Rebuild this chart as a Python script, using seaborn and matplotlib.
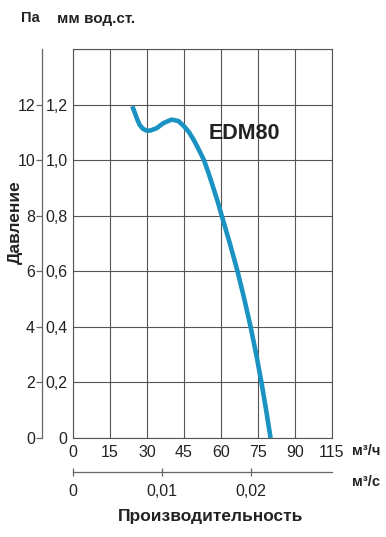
import matplotlib
matplotlib.use("Agg")
import matplotlib.pyplot as plt
import seaborn as sns
import pandas as pd
from matplotlib import font_manager

# ---- data ----
flow_m3h = [24.04, 25.0, 25.9, 27.0, 28.3, 29.6, 31.2, 33.9, 36.6, 40.0, 42.7, 45.0, 47.0, 49.0,
            51.0, 53.1, 55.05, 56.9, 58.65, 60.3, 63.6, 66.7, 69.45, 72.0, 74.3, 76.4, 78.3, 80.1]
pressure_mm = [1.194, 1.172, 1.150, 1.127, 1.113, 1.107, 1.106, 1.115, 1.133, 1.146, 1.141, 1.122, 1.101, 1.072,
               1.038, 1.0, 0.951, 0.9, 0.851, 0.8, 0.7, 0.6, 0.5, 0.4, 0.3, 0.2, 0.1, 0.0]
x_ticks = [0, 15, 30, 45, 60, 75, 90, 105]
x_tick_labels = ['0', '15', '30', '45', '60', '75', '90', '115']
y_ticks = [0, 0.2, 0.4, 0.6, 0.8, 1.0, 1.2]
y_tick_labels = ['0', '0,2', '0,4', '0,6', '0,8', '1,0', '1,2']
pa_ticks = [0, 2, 4, 6, 8, 10, 12]
m3s_ticks = [0, 0.01, 0.02]
m3s_labels = ['0', '0,01', '0,02']

sns.set_theme(style="white")
names = {f.name for f in font_manager.fontManager.ttflist}
narrow = 'Liberation Sans Narrow' if 'Liberation Sans Narrow' in names else 'Liberation Sans'
plt.rcParams['font.family'] = ['Liberation Sans', 'DejaVu Sans']

fig = plt.figure(figsize=(3.86, 5.37), dpi=100)
W, H = 386, 537
left, right, top, bottom = 73, 332, 49, 438
ax = fig.add_axes([left / W, 1 - bottom / H, (right - left) / W, (bottom - top) / H])

df = pd.DataFrame({'q': flow_m3h, 'p': pressure_mm})
sns.lineplot(data=df, x='q', y='p', sort=False, ax=ax, color='#1a92c2', linewidth=3.3, zorder=3,
             solid_joinstyle='round', solid_capstyle='butt')

ax.set_xlim(0, 105)
ax.set_ylim(0, 1.4)
ax.set_xticks(x_ticks)
ax.set_xticklabels(x_tick_labels, fontfamily=narrow, fontsize=11.5, color='#222222')
ax.set_yticks(y_ticks + [1.4])
ax.set_yticklabels(y_tick_labels + [''], fontfamily=narrow, fontsize=11.5, color='#222222')
ax.tick_params(axis='both', length=0)
ax.tick_params(axis='x', pad=5)
ax.tick_params(axis='y', pad=4)
ax.grid(True, color='#555555', linewidth=0.8)
for s in ax.spines.values():
    s.set_color('#555555')
    s.set_linewidth(0.8)
ax.set_xlabel('')
ax.set_ylabel('')

# Pa axis
ax2 = ax.twinx()
ax2.set_ylim(0, 14)
ax2.spines['left'].set_position(('axes', -31 / (right - left)))
ax2.spines['left'].set_visible(True)
ax2.spines['left'].set_color('#666666')
ax2.spines['left'].set_linewidth(0.9)
for k in ['right', 'top', 'bottom']:
    ax2.spines[k].set_visible(False)
ax2.yaxis.set_ticks_position('left')
ax2.yaxis.set_label_position('left')
ax2.set_yticks(pa_ticks)
ax2.set_yticklabels([str(v) for v in pa_ticks], fontfamily=narrow, fontsize=11.5, color='#222222')
ax2.tick_params(axis='y', direction='out', length=4, width=0.9, color='#666666', pad=1)
ax2.grid(False)

# m3/s axis
sec = ax.secondary_xaxis(-34 / (bottom - top), functions=(lambda x: x / 3600, lambda x: x * 3600))
sec.set_xticks(m3s_ticks)
sec.set_xticklabels(m3s_labels, fontfamily=narrow, fontsize=11.5, color='#222222')
sec.tick_params(axis='x', direction='inout', length=6, width=0.9, color='#666666', pad=6)
sec.spines['bottom'].set_color('#666666')
sec.spines['bottom'].set_linewidth(0.9)

# texts
fig.text(211 / W, 1 - 516 / H, 'Производительность', ha='center', va='center', fontsize=12.5, fontweight='bold', color='#222222')
fig.text(15 / W, 1 - 222 / H, 'Давление', ha='center', va='center', rotation=90, fontsize=12.5, fontweight='bold', color='#222222')
fig.text(21 / W, 1 - 18 / H, 'Па', ha='left', va='center', fontsize=10.5, fontweight='bold', color='#222222')
fig.text(57 / W, 1 - 19 / H, 'мм вод.ст.', ha='left', va='center', fontsize=11, fontweight='bold', color='#222222')
fig.text(352 / W, 1 - 451 / H, 'м³/ч', ha='left', va='center', fontsize=10.5, fontweight='bold', color='#222222')
fig.text(352 / W, 1 - 482 / H, 'м³/с', ha='left', va='center', fontsize=10.5, fontweight='bold', color='#222222')
fig.text(209 / W, 1 - 133.5 / H, 'EDM80', ha='left', va='center', fontsize=15.5, fontweight='bold', color='#222222')

fig.savefig('out.png', dpi=100)
